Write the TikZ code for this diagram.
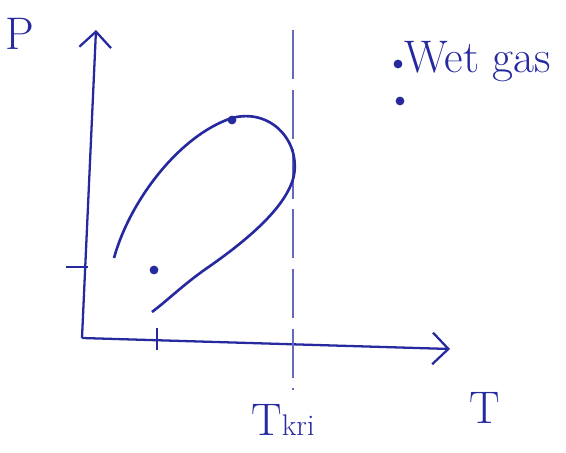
\documentclass[tikz,border=0pt]{standalone}
\usepackage{tikz}
\usetikzlibrary{arrows.meta, positioning}
\definecolor{ink}{RGB}{38,42,158}
\tikzset{
  %% Axis with hand-drawn style barb
  axis/.style={draw=ink, line width=1.3pt,
               -{Straight Barb[length=9pt,width=18pt,line width=1.3pt]}},
  %% Phase envelope
  envelope/.style={draw=ink, line width=1.5pt},
  %% Dashed guide line
  guide/.style={draw=ink!70, line width=1.1pt, dash pattern=on 28pt off 6pt},
  %% Dot marker
  pdot/.style={circle, fill=ink, inner sep=0pt, minimum size=5pt},
  %% Labels
  lbl/.style={text=ink, font=\fontsize{26}{28}\selectfont, inner sep=0pt},
  tick/.style={draw=ink, line width=1.2pt},
}
\begin{document}
\begin{tikzpicture}[x=0.02cm, y=-0.02cm]
  \useasboundingbox (0,0) rectangle (566,453);

  %% Axes
  \coordinate (O) at (82,338);
  \coordinate (ytop) at (96,30);
  \coordinate (xend) at (450,349);
  \draw[axis] (O) -- (ytop);
  \draw[axis] (O) -- (xend);

  %% Ticks
  \draw[tick] (66,267) -- (88,267);
  \draw[tick] (157,328) -- (157,350);

  %% Cricondentherm line
  \draw[guide] (293,30) -- (293,390);

  %% Phase envelope
  \draw[envelope] (114,258) .. controls (130,200) and (180,135) .. (232,118)
       .. controls (270,108) and (300,140) .. (294,175)
       .. controls (288,205) and (250,238) .. (210,266)
       .. controls (185,283) and (168,300) .. (152,312);

  %% Points
  \node[pdot] (crit) at (232,120) {};
  \node[pdot] (res) at (154,270) {};
  \node[pdot] (wg1) at (398,64) {};
  \node[pdot] (wg2) at (400,101) {};

  %% Labels
  \node[lbl] (P) at (20,34) {P};
  \node[lbl] (T) at (485,408) {T};
  \node[lbl, anchor=base] (Tkri) at (283,436) {T{\fontsize{17}{18}\selectfont kri}};
  \node[lbl, anchor=base west] (wet) at (404,72) {Wet gas};

\end{tikzpicture}
\end{document}
